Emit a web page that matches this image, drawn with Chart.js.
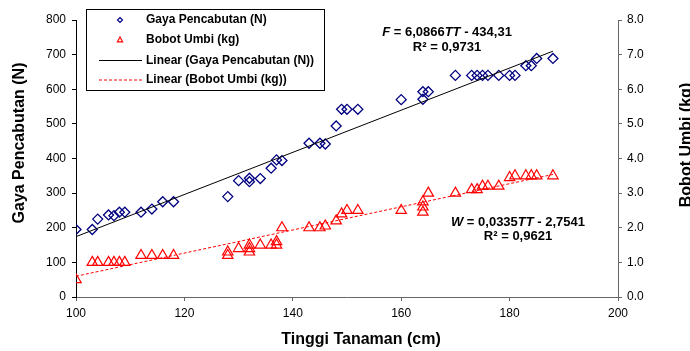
<!DOCTYPE html>
<html>
<head>
<meta charset="utf-8">
<script src="https://cdn.jsdelivr.net/npm/chart.js@4.4.1/dist/chart.umd.min.js"></script>
<style>
  html, body { margin: 0; padding: 0; background: #fff; }
  #wrap { width: 690px; height: 351px; }
</style>
</head>
<body>
<div id="wrap"><canvas id="chart" width="690" height="351"></canvas></div>
<script>
// data
var tinggiGaya = [100, 103, 104, 106, 107, 108, 109, 112, 114, 116, 118,
  128, 130, 132, 132, 134, 136, 137, 138, 143, 145, 146, 148, 149, 150, 152,
  160, 164, 164, 165, 170, 173, 174, 175, 176, 178, 180, 181, 183, 184, 185, 188];
var gaya = [195, 195, 225, 237, 235, 245, 245, 245, 254, 275, 275,
  290, 336, 343, 333, 342, 372, 396, 394, 444, 444, 442, 494, 542, 542, 542,
  570, 571, 593, 593, 640, 640, 640, 640, 640, 640, 640, 640, 668, 668, 689, 689];

var tinggiBobot = [100, 103, 104, 106, 107, 108, 109, 112, 114, 116, 118,
  128, 128, 130, 132, 132, 132, 134, 136, 137, 137, 138, 143, 145, 146, 148, 149, 150, 152,
  160, 164, 164, 164, 165, 170, 173, 174, 175, 176, 178, 180, 181, 183, 184, 185, 188];
var bobot = [0.5, 1.0, 1.0, 1.0, 1.0, 1.0, 1.0, 1.2, 1.2, 1.2, 1.2,
  1.2, 1.3, 1.4, 1.3, 1.4, 1.5, 1.5, 1.5, 1.5, 1.6, 2.0, 2.0, 2.0, 2.05, 2.2, 2.4, 2.5, 2.5,
  2.5, 2.45, 2.6, 2.75, 3.0, 3.0, 3.1, 3.1, 3.2, 3.2, 3.2, 3.45, 3.5, 3.5, 3.5, 3.5, 3.5];

// trend line end points (from the fitted equations shown)
var trendX = [100, 188];
var trendGaya = [174.3, 710.0];
var trendBobot = [0.60, 3.54];

var xTicks = [100, 120, 140, 160, 180, 200];

var FONT = "'Liberation Sans', Arial, sans-serif";
Chart.defaults.font.family = FONT;
Chart.defaults.color = '#000';

function pairs(xs, ys) {
  return xs.map(function (x, i) { return { x: x, y: ys[i] }; });
}

function drawRich(ctx, parts, cx, y, size) {
  var total = 0;
  parts.forEach(function (p) {
    ctx.font = (p[1] ? 'italic ' : '') + 'bold ' + size + 'px ' + FONT;
    total += ctx.measureText(p[0]).width;
  });
  var x = cx - total / 2;
  ctx.textAlign = 'left';
  parts.forEach(function (p) {
    ctx.font = (p[1] ? 'italic ' : '') + 'bold ' + size + 'px ' + FONT;
    ctx.fillText(p[0], x, y);
    x += ctx.measureText(p[0]).width;
  });
}

var extras = {
  id: 'extras',
  afterDraw: function (chart) {
    var ctx = chart.ctx;
    ctx.save();
    ctx.fillStyle = '#000';
    ctx.textBaseline = 'middle';

    // equations
    drawRich(ctx, [['F', true], [' = 6,0866', false], ['TT', true], [' - 434,31', false]], 447, 32, 13);
    drawRich(ctx, [['R² = 0,9731', false]], 447, 47, 13);
    drawRich(ctx, [['W', true], [' = 0,0335', false], ['TT', true], [' - 2,7541', false]], 518, 222, 13);
    drawRich(ctx, [['R² = 0,9621', false]], 518, 236, 13);

    // axis titles
    ctx.font = 'bold 16px ' + FONT;
    ctx.textAlign = 'center';
    ctx.fillText('Tinggi Tanaman (cm)', 361, 340);
    ctx.save();
    ctx.translate(20, 143);
    ctx.rotate(-Math.PI / 2);
    ctx.fillText('Gaya Pencabutan (N)', 0, 0);
    ctx.restore();
    ctx.save();
    ctx.translate(687, 145);
    ctx.rotate(-Math.PI / 2);
    ctx.fillText('Bobot Umbi (kg)', 0, 0);
    ctx.restore();

    // legend box
    ctx.fillStyle = '#fff';
    ctx.fillRect(86.5, 9.5, 238, 81);
    ctx.strokeStyle = '#000';
    ctx.lineWidth = 1;
    ctx.strokeRect(86.5, 9.5, 238, 81);
    var rows = [20, 40, 60.5, 80];
    var labels = ['Gaya Pencabutan (N)', 'Bobot Umbi (kg)', 'Linear (Gaya Pencabutan (N))', 'Linear (Bobot Umbi (kg))'];
    // markers
    ctx.lineWidth = 1.2;
    ctx.strokeStyle = '#000080';
    ctx.beginPath();
    ctx.moveTo(120, rows[0] - 2.5); ctx.lineTo(122.5, rows[0]); ctx.lineTo(120, rows[0] + 2.5); ctx.lineTo(117.5, rows[0]);
    ctx.closePath(); ctx.stroke();
    ctx.strokeStyle = '#ff0000';
    ctx.beginPath();
    ctx.moveTo(120, rows[1] - 3); ctx.lineTo(122.6, rows[1] + 1.8); ctx.lineTo(117.4, rows[1] + 1.8);
    ctx.closePath(); ctx.stroke();
    ctx.lineWidth = 1;
    ctx.strokeStyle = '#000';
    ctx.beginPath(); ctx.moveTo(99, rows[2]); ctx.lineTo(142, rows[2]); ctx.stroke();
    ctx.strokeStyle = '#ff0000';
    ctx.setLineDash([3, 2]);
    ctx.beginPath(); ctx.moveTo(99, rows[3]); ctx.lineTo(142, rows[3]); ctx.stroke();
    ctx.setLineDash([]);
    ctx.fillStyle = '#000';
    ctx.font = 'bold 12px ' + FONT;
    ctx.textAlign = 'left';
    labels.forEach(function (t, i) { ctx.fillText(t, 146, rows[i]); });
    ctx.restore();
  }
};

var ctx = document.getElementById('chart').getContext('2d');
var chart = new Chart(ctx, {
  type: 'scatter',
  data: {
    datasets: [
      {
        label: 'Linear (Gaya Pencabutan (N))',
        data: pairs(trendX, trendGaya),
        yAxisID: 'y',
        showLine: true,
        borderColor: '#000',
        borderWidth: 1,
        pointRadius: 0
      },
      {
        label: 'Linear (Bobot Umbi (kg))',
        data: pairs(trendX, trendBobot),
        yAxisID: 'y2',
        showLine: true,
        borderColor: '#ff0000',
        borderWidth: 1,
        borderDash: [3, 2],
        pointRadius: 0
      },
      {
        label: 'Gaya Pencabutan (N)',
        data: pairs(tinggiGaya, gaya),
        yAxisID: 'y',
        pointStyle: 'rectRot',
        pointRadius: 5,
        pointBorderWidth: 1.3,
        borderColor: '#000080',
        backgroundColor: 'rgba(0,0,0,0)'
      },
      {
        label: 'Bobot Umbi (kg)',
        data: pairs(tinggiBobot, bobot),
        yAxisID: 'y2',
        pointStyle: 'triangle',
        pointRadius: 6,
        pointBorderWidth: 1.2,
        borderColor: '#ff0000',
        backgroundColor: 'rgba(0,0,0,0)'
      }
    ]
  },
  options: {
    responsive: false,
    animation: false,
    devicePixelRatio: 1,
    layout: { padding: { top: 20, left: 0, right: 0, bottom: 0 } },
    scales: {
      x: {
        type: 'linear',
        min: 100,
        max: 200,
        afterBuildTicks: function (s) { s.ticks = xTicks.map(function (v) { return { value: v }; }); },
        ticks: { padding: 5, color: '#000', font: { size: 12 } },
        grid: { drawOnChartArea: false, tickLength: 4, color: '#666' },
        border: { color: '#666' },
        afterFit: function (s) { s.height = 54; }
      },
      y: {
        position: 'left',
        min: 0,
        max: 800,
        ticks: { stepSize: 100, padding: 6, color: '#000', font: { size: 12 } },
        grid: { drawOnChartArea: false, tickLength: 4, color: '#000' },
        border: { color: '#000' },
        afterFit: function (s) { s.width = 76; }
      },
      y2: {
        position: 'right',
        min: 0,
        max: 8,
        ticks: {
          stepSize: 1, padding: 5, color: '#000', font: { size: 12 },
          callback: function (v) { return v.toFixed(1); }
        },
        grid: { drawOnChartArea: false, tickLength: 4, color: '#666' },
        border: { color: '#666' },
        afterFit: function (s) { s.width = 72; }
      }
    },
    plugins: {
      legend: { display: false },
      tooltip: { enabled: false }
    }
  },
  plugins: [extras]
});
</script>
</body>
</html>
